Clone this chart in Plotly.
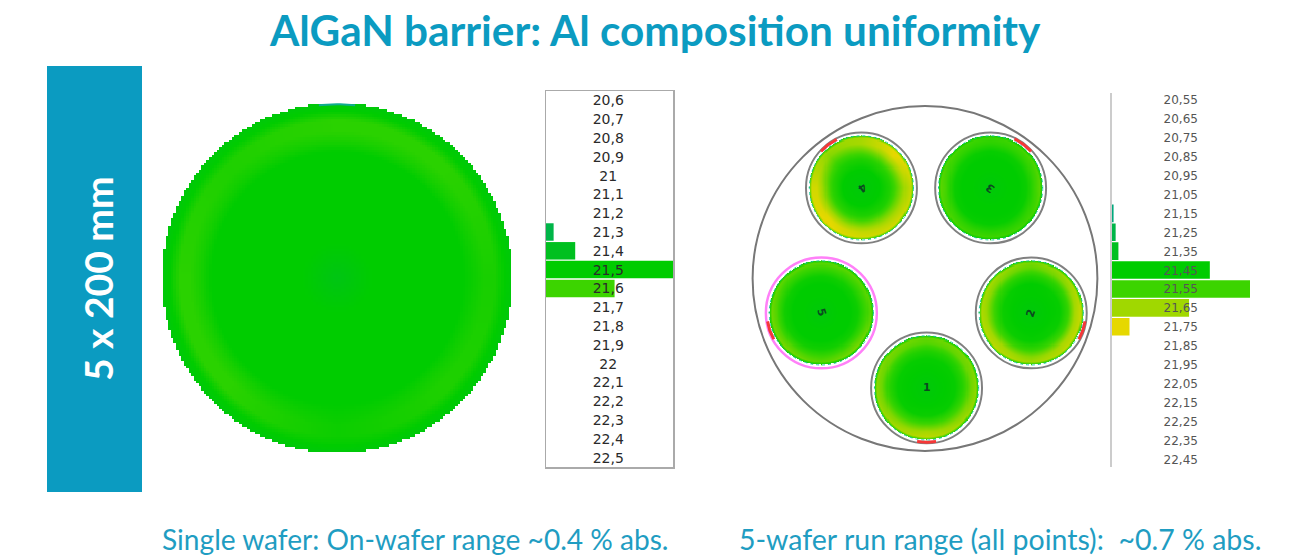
import numpy as np
import plotly.graph_objects as go

W, H = 1305, 559

TITLE = "AlGaN barrier: Al composition uniformity"
SIDE_LABEL = "5 x 200 mm"
CAPTION_LEFT = "Single wafer: On-wafer range ~0.4 % abs."
CAPTION_RIGHT = "5-wafer run range (all points):  ~0.7 % abs."

# Histogram 1: single wafer (relative frequency, largest = 100)
single_bins = ["20,6", "20,7", "20,8", "20,9", "21", "21,1", "21,2", "21,3", "21,4", "21,5",
               "21,6", "21,7", "21,8", "21,9", "22", "22,1", "22,2", "22,3", "22,4", "22,5"]
single_vals = [20.6, 20.7, 20.8, 20.9, 21.0, 21.1, 21.2, 21.3, 21.4, 21.5,
               21.6, 21.7, 21.8, 21.9, 22.0, 22.1, 22.2, 22.3, 22.4, 22.5]
single_freq = [0, 0, 0, 0, 0, 0, 0, 6, 23, 100, 54, 0, 0, 0, 0, 0, 0, 0, 0, 0]

# Histogram 2: 5-wafer run
run_bins = ["20,55", "20,65", "20,75", "20,85", "20,95", "21,05", "21,15", "21,25", "21,35", "21,45",
            "21,55", "21,65", "21,75", "21,85", "21,95", "22,05", "22,15", "22,25", "22,35", "22,45"]
run_vals = [20.55, 20.65, 20.75, 20.85, 20.95, 21.05, 21.15, 21.25, 21.35, 21.45,
            21.55, 21.65, 21.75, 21.85, 21.95, 22.05, 22.15, 22.25, 22.35, 22.45]
run_freq = [0, 0, 0, 0, 0, 0, 1.5, 3, 5, 71, 100, 56, 13, 0, 0, 0, 0, 0, 0, 0]

# Wafer maps: Al composition (%) read per sector (E, NE, N, NW, W, SW, S, SE) and radius
ring_radii = [0.0, 0.35, 0.55, 0.70, 0.85, 0.95, 1.0]
single_radii = [0.0, 0.10, 0.20, 0.72, 0.78, 0.84, 0.90, 0.95, 1.0]
single_map = [
    [21.44, 21.47, 21.5, 21.5, 21.52, 21.54, 21.54, 21.505, 21.47],
    [21.44, 21.47, 21.5, 21.5, 21.54, 21.57, 21.57, 21.505, 21.47],
    [21.44, 21.47, 21.5, 21.5, 21.54, 21.57, 21.57, 21.505, 21.47],
    [21.44, 21.47, 21.5, 21.5, 21.53, 21.55, 21.55, 21.505, 21.47],
    [21.44, 21.47, 21.5, 21.5, 21.54, 21.57, 21.57, 21.505, 21.47],
    [21.44, 21.47, 21.5, 21.5, 21.54, 21.57, 21.57, 21.505, 21.47],
    [21.44, 21.47, 21.5, 21.5, 21.51, 21.52, 21.52, 21.505, 21.47],
    [21.44, 21.47, 21.5, 21.5, 21.53, 21.55, 21.55, 21.505, 21.47],
]
plate_maps = {
    "C": [
        [21.42, 21.45, 21.50, 21.58, 21.66, 21.70, 21.55],
        [21.42, 21.45, 21.52, 21.62, 21.74, 21.76, 21.58],
        [21.42, 21.45, 21.50, 21.58, 21.66, 21.66, 21.52],
        [21.42, 21.45, 21.50, 21.56, 21.62, 21.64, 21.52],
        [21.42, 21.45, 21.52, 21.62, 21.72, 21.72, 21.55],
        [21.42, 21.45, 21.52, 21.62, 21.74, 21.76, 21.58],
        [21.42, 21.45, 21.50, 21.60, 21.70, 21.72, 21.55],
        [21.42, 21.45, 21.50, 21.60, 21.68, 21.72, 21.55],
    ],
    "A": [
        [21.42, 21.45, 21.45, 21.47, 21.55, 21.58, 21.48],
        [21.42, 21.45, 21.45, 21.47, 21.53, 21.56, 21.48],
        [21.42, 21.45, 21.45, 21.46, 21.52, 21.54, 21.47],
        [21.42, 21.45, 21.45, 21.47, 21.53, 21.56, 21.48],
        [21.42, 21.45, 21.45, 21.47, 21.56, 21.58, 21.48],
        [21.42, 21.45, 21.45, 21.46, 21.53, 21.56, 21.48],
        [21.42, 21.45, 21.45, 21.46, 21.52, 21.55, 21.47],
        [21.42, 21.45, 21.45, 21.46, 21.52, 21.55, 21.47],
    ],
    "M": [
        [21.42, 21.45, 21.45, 21.47, 21.54, 21.58, 21.48],
        [21.42, 21.45, 21.45, 21.48, 21.55, 21.58, 21.48],
        [21.42, 21.45, 21.45, 21.47, 21.54, 21.58, 21.48],
        [21.42, 21.45, 21.45, 21.47, 21.54, 21.58, 21.48],
        [21.42, 21.45, 21.45, 21.48, 21.57, 21.60, 21.48],
        [21.42, 21.45, 21.45, 21.48, 21.57, 21.61, 21.48],
        [21.42, 21.45, 21.45, 21.48, 21.55, 21.58, 21.48],
        [21.42, 21.45, 21.45, 21.48, 21.57, 21.61, 21.48],
    ],
    "S": [
        [21.42, 21.45, 21.46, 21.53, 21.66, 21.70, 21.54],
        [21.42, 21.45, 21.46, 21.52, 21.62, 21.65, 21.52],
        [21.42, 21.45, 21.45, 21.50, 21.58, 21.61, 21.50],
        [21.42, 21.45, 21.46, 21.52, 21.62, 21.65, 21.52],
        [21.42, 21.45, 21.47, 21.55, 21.64, 21.67, 21.54],
        [21.42, 21.45, 21.47, 21.55, 21.66, 21.69, 21.54],
        [21.42, 21.45, 21.46, 21.53, 21.62, 21.65, 21.52],
        [21.42, 21.45, 21.47, 21.55, 21.66, 21.69, 21.54],
    ],
    "1": [
        [21.42, 21.45, 21.46, 21.51, 21.60, 21.63, 21.50],
        [21.42, 21.45, 21.46, 21.51, 21.59, 21.61, 21.50],
        [21.42, 21.45, 21.46, 21.50, 21.57, 21.59, 21.48],
        [21.42, 21.45, 21.46, 21.51, 21.59, 21.61, 21.50],
        [21.42, 21.45, 21.46, 21.51, 21.60, 21.63, 21.50],
        [21.42, 21.45, 21.46, 21.54, 21.62, 21.65, 21.52],
        [21.42, 21.45, 21.47, 21.56, 21.66, 21.69, 21.54],
        [21.42, 21.45, 21.46, 21.54, 21.62, 21.65, 21.52],
    ],
}
# Platter layout, mm from platter centre
wafer_x = {"C": -122, "A": 126, "M": -199, "S": 204, "1": 3}
wafer_y = {"C": 174, "A": 174, "M": -66, "S": -66, "1": -210}
wafer_text = {"C": "4", "A": "3", "M": "5", "S": "2", "1": "1"}
wafer_text_angle = {"C": 144, "A": -144, "M": 72, "S": -72, "1": 0}
# Edge-exclusion arcs (start, end angle in degrees)
arc_start = {"C": 117, "A": 42, "M": 189, "S": -29, "1": 260}
arc_end = {"C": 138, "A": 64, "M": 209, "S": -9, "1": 280}

BIN_COLORS = ["#00a87c", "#00b548", "#00c020", "#00cc00", "#3cd400", "#a0d800", "#e6d800", "#f0a000"]
SCALE = [[i / (len(BIN_COLORS) - 1), c] for i, c in enumerate(BIN_COLORS)]
TEAL = "#0b9bc1"
CAPTION = "#1f9dc2"


def px(x):
    return x / W


def py(y):
    return 1 - y / H


def field(table, radii, step):
    """Pixel grid of a wafer map built from its sector/radius table."""
    grid = np.arange(-100, 100 + step, step)
    X, Y = np.meshgrid(grid, grid)
    r = np.hypot(X, Y) / 100
    t = np.mod(np.degrees(np.arctan2(Y, X)), 360) / 45
    a = np.array(table)
    per_ring = [a[:, j] for j in range(a.shape[1])]
    i0 = np.floor(t).astype(int) % 8
    i1 = (i0 + 1) % 8
    f = t - np.floor(t)
    stack = np.stack([p[i0] * (1 - f) + p[i1] * f for p in per_ring], axis=-1)
    idx = np.clip(np.searchsorted(radii, r) - 1, 0, len(radii) - 2)
    rad = np.array(radii)
    g = np.clip((r - rad[idx]) / (rad[idx + 1] - rad[idx]), 0, 1)
    I, J = np.indices(r.shape)
    z = stack[I, J, idx] * (1 - g) + stack[I, J, idx + 1] * g
    z[r > 1] = np.nan
    return grid, z


def circle(fig, xa, ya, cx, cy, rad, color, width, dash="solid", layer="below"):
    fig.add_shape(type="circle", xref=xa, yref=ya, x0=cx - rad, x1=cx + rad, y0=cy - rad, y1=cy + rad,
                  line=dict(color=color, width=width, dash=dash), layer=layer)


fig = go.Figure()

# Single wafer
gx, gz = field(single_map, single_radii, 1.45)
fig.add_trace(go.Heatmap(x=gx, y=gx, z=gz, xaxis="x", yaxis="y", colorscale=SCALE, zmin=21.2, zmax=21.9,
                         showscale=False, hoverinfo="skip"))
theta = np.radians(np.arange(84, 97, 1.0))
fig.add_trace(go.Scatter(x=99.3 * np.cos(theta), y=99.3 * np.sin(theta), mode="lines", xaxis="x", yaxis="y",
                         line=dict(color="#10ac90", width=2), hoverinfo="skip", showlegend=False))

# Platter
circle(fig, "x2", "y2", 0, 0, 331, "#777777", 2)
for key, table in plate_maps.items():
    cx, cy = wafer_x[key], wafer_y[key]
    gx, gz = field(table, ring_radii, 2.0)
    fig.add_trace(go.Heatmap(x=gx + cx, y=gx + cy, z=gz, xaxis="x2", yaxis="y2", colorscale=SCALE,
                             zmin=21.15, zmax=21.85, showscale=False, hoverinfo="skip"))
    circle(fig, "x2", "y2", cx, cy, 100, "#20c8a0", 1, "dot", layer="above")
    if key == "M":
        circle(fig, "x2", "y2", cx, cy, 106.5, "#ff80f8", 2.5)
    else:
        circle(fig, "x2", "y2", cx, cy, 106.5, "#808080", 2)
    th = np.radians(np.arange(arc_start[key], arc_end[key] + 1, 1.0))
    fig.add_trace(go.Scatter(x=cx + 104.5 * np.cos(th), y=cy + 104.5 * np.sin(th), mode="lines", xaxis="x2", yaxis="y2",
                             line=dict(color="#f53838", width=3), hoverinfo="skip", showlegend=False))
    fig.add_annotation(x=cx, y=cy, xref="x2", yref="y2", text=f"<b>{wafer_text[key]}</b>", showarrow=False,
                       textangle=wafer_text_angle[key], font=dict(family="DejaVu Sans", size=11, color="#0c4a20"))

# Histograms
fig.add_trace(go.Bar(y=single_bins, x=single_freq, orientation="h", xaxis="x3", yaxis="y3",
                     marker=dict(color=single_vals, colorscale=SCALE, cmin=21.2, cmax=21.9, line_width=0),
                     hoverinfo="skip", showlegend=False))
fig.add_trace(go.Scatter(y=single_bins, x=[49] * len(single_bins), mode="text", text=single_bins,
                         xaxis="x3", yaxis="y5", textfont=dict(family="DejaVu Sans", size=14, color="#2a2a2a"),
                         hoverinfo="skip", showlegend=False))
fig.add_trace(go.Bar(y=run_bins, x=run_freq, orientation="h", xaxis="x4", yaxis="y4",
                     marker=dict(color=run_vals, colorscale=SCALE, cmin=21.15, cmax=21.85, line_width=0),
                     hoverinfo="skip", showlegend=False))
fig.add_trace(go.Scatter(y=run_bins, x=[50] * len(run_bins), mode="text", text=run_bins,
                         xaxis="x4", yaxis="y6", textfont=dict(family="DejaVu Sans", size=12, color="#555555"),
                         hoverinfo="skip", showlegend=False))

hidden = dict(visible=False, fixedrange=True)
hist_y = dict(type="category", autorange=False, showgrid=False, zeroline=False, showticklabels=False,
              ticks="", fixedrange=True)
fig.update_layout(
    width=W, height=H, margin=dict(l=0, r=0, t=0, b=0), autosize=False,
    paper_bgcolor="white", plot_bgcolor="rgba(0,0,0,0)", showlegend=False, bargap=0.07,
    xaxis=dict(domain=[px(162), px(512)], range=[-100, 100], anchor="y", **hidden),
    yaxis=dict(domain=[py(453), py(103)], range=[-100, 100], anchor="x", **hidden),
    xaxis2=dict(domain=[px(745), px(1105)], range=[-345.6, 345.6], anchor="y2", **hidden),
    yaxis2=dict(domain=[py(458.5), py(98.5)], range=[-345.6, 345.6], anchor="x2", **hidden),
    xaxis3=dict(domain=[px(546), px(673)], range=[0, 100], anchor="y3", showgrid=False, zeroline=False,
                showticklabels=False, ticks="", fixedrange=True, showline=True, mirror=True,
                linecolor="#aaaaaa", linewidth=1.5),
    yaxis3=dict(domain=[py(467), py(91)], range=[19.5, -0.5], anchor="x3", showline=True, mirror=True,
                linecolor="#aaaaaa", linewidth=1.5, **hist_y),
    xaxis4=dict(domain=[px(1111.5), px(1250)], range=[0, 100], anchor="y4", showgrid=False, zeroline=False,
                showticklabels=False, ticks="", fixedrange=True, showline=False),
    yaxis4=dict(domain=[py(468.5), py(90.5)], range=[19.5, -0.5], anchor="x4", showline=False, **hist_y),
    yaxis5=dict(domain=[py(468.5), py(92.5)], range=[19.5, -0.5], anchor="x3", visible=False,
                type="category", fixedrange=True),
    yaxis6=dict(domain=[py(470), py(92)], range=[19.5, -0.5], anchor="x4", visible=False,
                type="category", fixedrange=True),
)

fig.add_shape(type="rect", xref="paper", yref="paper", x0=px(47), x1=px(142), y0=py(492), y1=py(66),
              fillcolor=TEAL, line_width=0, layer="below")
fig.add_shape(type="line", xref="paper", yref="paper", x0=px(1111), x1=px(1111), y0=py(467), y1=py(93),
              line=dict(color="#cccccc", width=2), layer="above")
for x, y, text, size, color, bold, angle in [
    (654.5, 29, TITLE, 42.3, TEAL, True, 0),
    (98, 279, SIDE_LABEL, 39, "white", True, -90),
    (415, 539, CAPTION_LEFT, 28.1, CAPTION, False, 0),
    (999.5, 539, CAPTION_RIGHT, 28.5, CAPTION, False, 0),
]:
    fig.add_annotation(x=px(x), y=py(y), xref="paper", yref="paper", text=f"<b>{text}</b>" if bold else text,
                       showarrow=False, textangle=angle, xanchor="center", yanchor="middle",
                       font=dict(family="Lato", size=size, color=color))

fig.write_html("out.html", config=dict(displayModeBar=False, staticPlot=True),
               post_script="document.body.style.margin='0';document.body.style.overflow='hidden';")
